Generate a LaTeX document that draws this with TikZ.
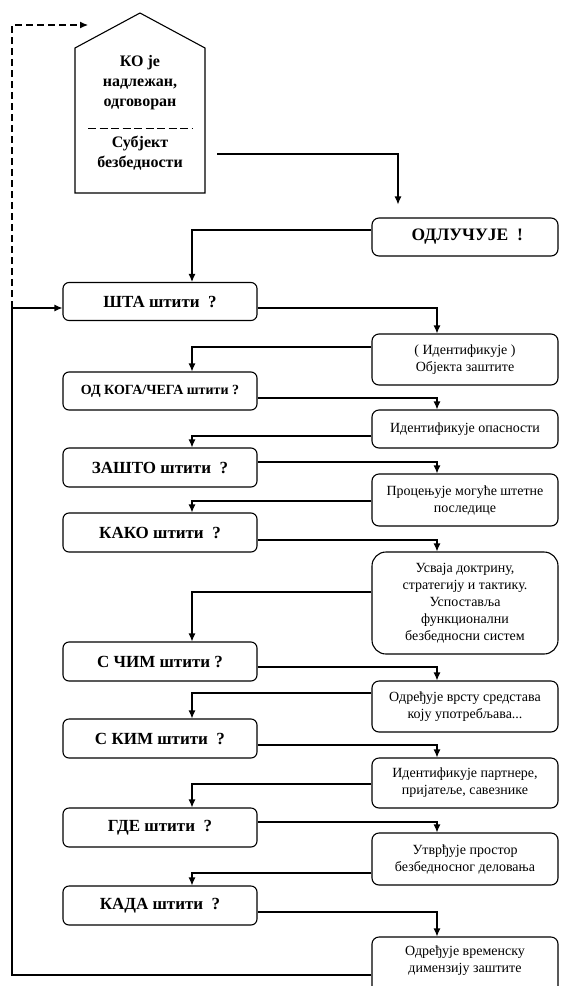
\documentclass[tikz,border=0pt]{standalone}
\usepackage{fontspec}
\setmainfont{Liberation Serif}
\usetikzlibrary{arrows.meta,positioning}

\begin{document}
\begin{tikzpicture}[x=1pt,y=-1pt,
	qbox/.style={draw, line width=1.1pt, rounded corners=6pt, minimum width=194pt, minimum height=38pt, inner sep=0pt, font=\fontsize{17}{20}\selectfont\bfseries},
	abox/.style={draw, line width=1.1pt, rounded corners=7pt, minimum width=186pt, inner sep=0pt, align=center, font=\fontsize{14}{17}\selectfont},
	arr/.style={line width=1.1pt, -{Latex[length=8pt,width=7pt]}},
	line/.style={line width=1.1pt}]
	\useasboundingbox (0,0) rectangle (560,986);
	\draw[line] (75,193) -- (75,48) -- (140,13) -- (205,48) -- (205,193) -- cycle;
	\node[align=center, font=\fontsize{16}{20}\selectfont\bfseries] (ko) at (140,83) {КО је\\надлежан,\\одговоран};
	\draw[line width=1pt, dash pattern=on 8pt off 3.5pt] (88,128) -- (192,128);
	\node[align=center, font=\fontsize{16}{20}\selectfont\bfseries] (subj) at (140,153) {Субјект\\безбедности};
	\coordinate (hout) at (217,154);
	\node[abox, minimum height=38pt, font=\fontsize{17.5}{20}\selectfont\bfseries] (d0) at (465,237) {\ ОДЛУЧУЈЕ\ \ !};
	\node[qbox] (q1) at (160,301.5) {ШТА штити\ \ ?};
	\node[abox, minimum height=51pt] (a1) at (465,359.5) {( Идентификује )\\Објекта заштите};
	\node[qbox, font=\fontsize{14}{17}\selectfont\bfseries] (q2) at (160,391) {ОД КОГА/ЧЕГА штити ?};
	\node[abox, minimum height=38pt] (a2) at (465,429) {Идентификује опасности};
	\node[qbox, minimum height=39pt] (q3) at (160,467.5) {ЗАШТО штити\ \ ?};
	\node[abox, minimum height=52pt] (a3) at (465,500) {Процењује могуће штетне\\последице};
	\node[qbox, minimum height=39pt] (q4) at (160,532.5) {КАКО штити\ \ ?};
	\node[abox, minimum height=102pt, rounded corners=14pt] (a4) at (465,603) {Усваја доктрину,\\стратегију и тактику.\\Успоставља\\функционални\\безбедносни систем};
	\node[qbox, minimum height=39pt] (q5) at (160,661.5) {С ЧИМ штити ?};
	\node[abox, minimum height=51pt] (a5) at (465,706.5) {Одређује врсту средстава\\коју употребљава...};
	\node[qbox, minimum height=39pt] (q6) at (160,738.5) {С КИМ штити\ \ ?};
	\node[abox, minimum height=50pt] (a6) at (465,783) {Идентификује партнере,\\пријатеље, савезнике};
	\node[qbox, minimum height=39pt] (q7) at (160,827.5) {ГДЕ штити\ \ ?};
	\node[abox, minimum height=52pt] (a7) at (465,859) {Утврђује простор\\безбедносног деловања};
	\node[qbox, minimum height=39pt] (q8) at (160,905.5) {КАДА штити\ \ ?};
	\node[abox, minimum height=60pt, text depth=15pt] (a8) at (465,967) {Одређује временску\\димензију заштите};
	\coordinate (loop) at (12,308);
	\coordinate (top) at (88,25);
	\draw[arr, shorten >=13pt] (hout) -| ([xshift=-67pt]d0.north);
	\draw[arr] ([yshift=7pt]d0.west) -| ([xshift=32pt]q1.north);
	\draw[arr] ([yshift=-6.5pt]q1.east) -| ([xshift=-28pt]a1.north);
	\draw[arr] ([yshift=12.5pt]a1.west) -| ([xshift=32pt]q2.north);
	\draw[arr] ([yshift=-7pt]q2.east) -| ([xshift=-28pt]a2.north);
	\draw[arr] ([yshift=-7pt]a2.west) -| ([xshift=32pt]q3.north);
	\draw[arr] ([yshift=5.5pt]q3.east) -| ([xshift=-28pt]a3.north);
	\draw[arr] ([yshift=-1pt]a3.west) -| ([xshift=32pt]q4.north);
	\draw[arr] ([yshift=-7.5pt]q4.east) -| ([xshift=-28pt]a4.north);
	\draw[arr] ([yshift=11pt]a4.west) -| ([xshift=32pt]q5.north);
	\draw[arr] ([yshift=-5.5pt]q5.east) -| ([xshift=-28pt]a5.north);
	\draw[arr] ([yshift=13.5pt]a5.west) -| ([xshift=32pt]q6.north);
	\draw[arr] ([yshift=-6.5pt]q6.east) -| ([xshift=-28pt]a6.north);
	\draw[arr] ([yshift=-1pt]a6.west) -| ([xshift=32pt]q7.north);
	\draw[arr] ([yshift=5.5pt]q7.east) -| ([xshift=-28pt]a7.north);
	\draw[arr] ([yshift=-14pt]a7.west) -| ([xshift=32pt]q8.north);
	\draw[arr] ([yshift=-6.5pt]q8.east) -| ([xshift=-28pt]a8.north);
	\draw[line] ([yshift=-8pt]a8.west) -| (loop);
	\draw[arr] (loop) -- (q1.west |- loop);
	\draw[arr, dash pattern=on 7pt off 4pt] (loop) |- (top);
\end{tikzpicture}
\end{document}
